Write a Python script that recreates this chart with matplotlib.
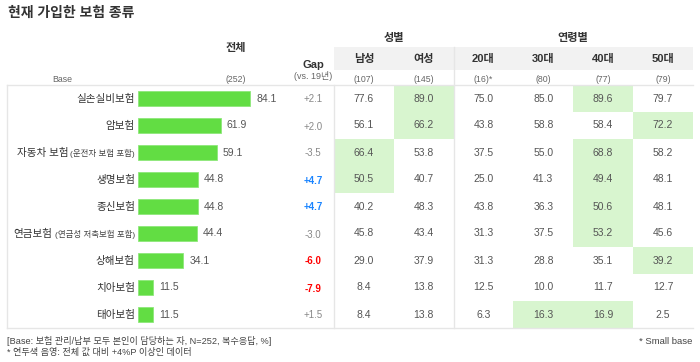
import matplotlib
matplotlib.use("Agg")
import matplotlib.pyplot as plt
from matplotlib.patches import Rectangle

plt.rcParams['font.family'] = ['Liberation Sans', 'Noto Sans CJK KR', 'DejaVu Sans']

# 데이터
items = ['실손실비보험', '암보험', '자동차 보험', '생명보험', '종신보험',
         '연금보험', '상해보험', '치아보험', '태아보험']
item_notes = ['', '', '(운전자 보험 포함)', '', '', '(연금성 저축보험 포함)', '', '', '']
total = [84.1, 61.9, 59.1, 44.8, 44.8, 44.4, 34.1, 11.5, 11.5]
gap = [2.1, 2.0, -3.5, 4.7, 4.7, -3.0, -6.0, -7.9, 1.5]

columns = ['남성', '여성', '20대', '30대', '40대', '50대']
bases = ['(107)', '(145)', '(16)*', '(80)', '(77)', '(79)']
male = [77.6, 56.1, 66.4, 50.5, 40.2, 45.8, 29.0, 8.4, 8.4]
female = [89.0, 66.2, 53.8, 40.7, 48.3, 43.4, 37.9, 13.8, 13.8]
age20 = [75.0, 43.8, 37.5, 25.0, 43.8, 31.3, 31.3, 12.5, 6.3]
age30 = [85.0, 58.8, 55.0, 41.3, 36.3, 37.5, 28.8, 10.0, 16.3]
age40 = [89.6, 58.4, 68.8, 49.4, 50.6, 53.2, 35.1, 11.7, 16.9]
age50 = [79.7, 72.2, 58.2, 48.1, 48.1, 45.6, 39.2, 12.7, 2.5]
table = [male, female, age20, age30, age40, age50]

# 연두색 음영 셀 (행, 열)
highlight = [(0, 1), (1, 1), (2, 0), (3, 0), (0, 4), (2, 4), (3, 4), (4, 4),
             (5, 4), (8, 3), (8, 4), (1, 5), (6, 5)]

# 레이아웃 (픽셀)
W, H = 700, 362
top, row_h = 85, 27
n = len(items)
bottom = top + row_h * n
col_x0, col_w = 334, 59.8
bar_x0, px_per_unit = 138, 1.333

fig = plt.figure(figsize=(W / 100, H / 100), dpi=100)
ax = fig.add_axes([0, 0, 1, 1])
ax.set_xlim(0, W)
ax.set_ylim(H, 0)
ax.axis('off')

txt = '#555555'
line_c = '#e6e6e6'

# 제목
ax.text(8, 13, '현재 가입한 보험 종류', fontsize=10, fontweight='bold', color='#333333', va='center')

# 헤더
ax.add_patch(Rectangle((col_x0, 47), col_w * 6, 23, color='#f2f2f2', lw=0))
ax.text(236, 48, '전체', fontsize=8, fontweight='bold', color='#333333', ha='center', va='center')
ax.text(313, 65, 'Gap', fontsize=8, fontweight='bold', color='#333333', ha='center', va='center')
ax.text(313, 76, '(vs. 19년)', fontsize=6.5, color='#666666', ha='center', va='center')
ax.text(62, 79, 'Base', fontsize=6.3, color='#666666', ha='center', va='center')
ax.text(236, 79, '(252)', fontsize=6.3, color='#666666', ha='center', va='center')
ax.text(col_x0 + col_w, 38, '성별', fontsize=8, fontweight='bold', color='#333333', ha='center', va='center')
ax.text(col_x0 + col_w * 4, 38, '연령별', fontsize=8, fontweight='bold', color='#333333', ha='center', va='center')
for j, (c, b) in enumerate(zip(columns, bases)):
    cx = col_x0 + col_w * (j + 0.5)
    ax.text(cx, 59, c, fontsize=8, fontweight='bold', color='#333333', ha='center', va='center')
    ax.text(cx, 79, b, fontsize=6.3, color='#666666', ha='center', va='center')

# 음영
for r, c in highlight:
    ax.add_patch(Rectangle((col_x0 + col_w * c, top + row_h * r), col_w, row_h,
                           color='#d8f5cf', lw=0, zorder=0))

# 선
ax.plot([7, col_x0 + col_w * 6], [top, top], color=line_c, lw=1)
ax.plot([7, col_x0 + col_w * 6], [bottom, bottom], color=line_c, lw=1)
ax.plot([7, 7], [top, bottom], color=line_c, lw=1)
ax.plot([col_x0, col_x0], [top, bottom], color=line_c, lw=1)
ax.plot([col_x0 + col_w * 2, col_x0 + col_w * 2], [47, bottom], color=line_c, lw=1)

fig.canvas.draw()
renderer = fig.canvas.get_renderer()
inv = ax.transData.inverted()

for i in range(n):
    cy = top + row_h * (i + 0.5)
    # 항목명
    right = 135
    if item_notes[i]:
        t = ax.text(right, cy + 0.5, item_notes[i], fontsize=6.1, color='#444444', ha='right', va='center')
        bb = t.get_window_extent(renderer)
        right = inv.transform((bb.x0, bb.y0))[0] - 2
    ax.text(right, cy, items[i], fontsize=7.6, color='#333333', ha='right', va='center')
    # Gap
    g = gap[i]
    if g >= 4:
        gc, gw = '#1a84ff', 'bold'
    elif g <= -4:
        gc, gw = '#ff0000', 'bold'
    else:
        gc, gw = '#888888', 'normal'
    ax.text(313, cy + 1, f'{g:+.1f}', fontsize=7, color=gc, fontweight=gw, ha='center', va='center')
    # 표 값
    for j, col in enumerate(table):
        ax.text(col_x0 + col_w * (j + 0.5), cy, f'{col[i]:.1f}', fontsize=7.5, color=txt,
                ha='center', va='center')

# 막대
axb = fig.add_axes([bar_x0 / W, 1 - bottom / H, 100 * px_per_unit / W, row_h * n / H])
axb.set_xlim(0, 100)
axb.set_ylim(n - 0.5, -0.5)
axb.axis('off')
ypos = list(range(n))
axb.barh(ypos, total, height=0.56, color='#62dd43', edgecolor='#8ee87a', lw=0.6)
for y, v in zip(ypos, total):
    axb.text(v + 4.5, y, f'{v:.1f}', fontsize=7.5, color=txt, va='center', ha='left')

# 주석
ax.text(7, 341, '[Base: 보험 관리/납부 모두 본인이 담당하는 자, N=252, 복수응답, %]',
        fontsize=6.6, color='#444444', va='center')
ax.text(7, 352, '* 연두색 음영: 전체 값 대비 +4%P 이상인 데이터', fontsize=6.6, color='#444444', va='center')
ax.text(col_x0 + col_w * 6, 341, '* Small base', fontsize=6.8, color='#444444', ha='right', va='center')

fig.savefig('out.png', dpi=100)
